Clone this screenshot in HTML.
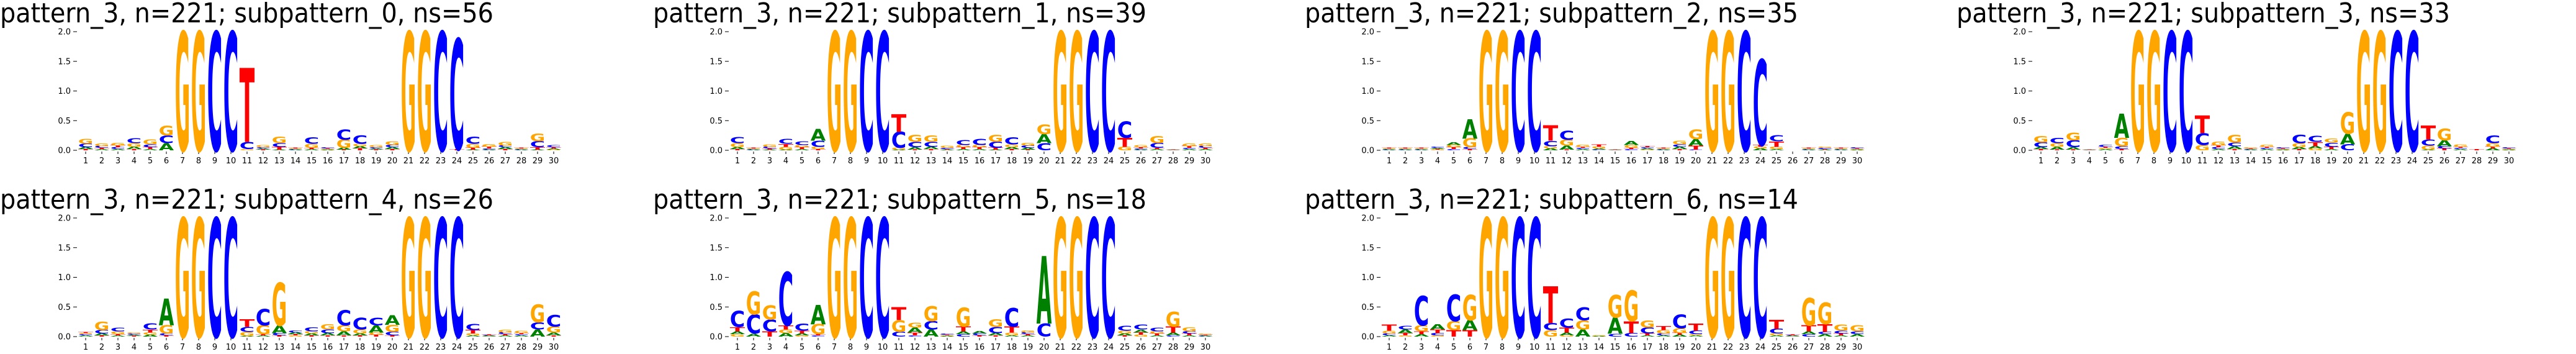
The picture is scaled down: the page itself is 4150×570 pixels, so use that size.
<!DOCTYPE html>
<html><head><meta charset="utf-8">
<style>
html,body{margin:0;padding:0;background:#fff;width:4150px;height:570px;overflow:hidden;}
svg{display:block;overflow:hidden;}
</style></head>
<body>
<svg id="chart" width="4150" height="570" xmlns="http://www.w3.org/2000/svg" style="font-family:'DejaVu Sans','Liberation Sans',sans-serif"></svg>
<script>
// letters order: A, C, G, T
const letters = ['A','C','G','T'];
const colors = {A:'#008000', C:'#0000ff', G:'#ffa500', T:'#ff0000'};
const titles = [
 'pattern_3, n=221; subpattern_0, ns=56',
 'pattern_3, n=221; subpattern_1, ns=39',
 'pattern_3, n=221; subpattern_2, ns=35',
 'pattern_3, n=221; subpattern_3, ns=33',
 'pattern_3, n=221; subpattern_4, ns=26',
 'pattern_3, n=221; subpattern_5, ns=18',
 'pattern_3, n=221; subpattern_6, ns=14'
];
const yTicks = [0, 0.5, 1.0, 1.5, 2.0];
const yTickLabels = ['0.0','0.5','1.0','1.5','2.0'];
const positions = [1,2,3,4,5,6,7,8,9,10,11,12,13,14,15,16,17,18,19,20,21,22,23,24,25,26,27,28,29,30];
const GG = [0,0,2,0], CC = [0,2,0,0];
const logo0 = [[.03,.06,.08,.02],[.02,.03,.05,.02],[.02,.03,.05,.03],[.04,.08,.06,.02],[.02,.05,.08,.03],[.12,.13,.16,0],GG,GG,CC,CC,
 [0,.12,.02,1.25],[.02,.02,.03,.01],[.01,.06,.11,.05],[.01,.01,.01,.01],[.02,.11,.07,.02],[.01,.02,.01,.01],[.03,.17,.14,.01],[.04,.14,.04,.03],[.02,.02,.03,.01],[.03,.04,.06,.02],
 GG,GG,CC,[0,1.86,0,.02],[.01,.12,.07,.03],[.01,.02,.05,.03],[.03,.03,.06,.02],[.01,.01,.01,.01],[.01,.1,.13,.04],[.02,.03,.01,.02]];
const logo1 = [[.03,.1,.07,.02],[.01,.01,.01,.01],[.01,.03,.04,.02],[.01,.08,.05,.05],[.02,.06,.04,.03],[.2,.1,.04,.02],GG,GG,CC,CC,
 [.01,.27,.03,.3],[.04,.09,.12,.01],[.04,.08,.11,.02],[.01,.02,.03,.01],[.02,.08,.04,.03],[.02,.1,.04,.03],[.01,.1,.12,.03],[.03,.12,.05,.02],[.03,.04,.05,.01],[.15,.12,.16,0],
 GG,GG,CC,CC,[0,.28,.06,.15],[.01,.02,.03,.02],[.02,.08,.12,.02],[.005,.005,.005,.005],[.02,.02,.05,.03],[.02,.03,.05,.02]];
const logo2 = [[.01,.01,.01,.01],[.01,.01,.01,.01],[.01,.01,.01,.01],[.02,.02,.01,.01],[.05,.02,.04,.03],[.33,.03,.15,.02],GG,GG,CC,CC,
 [.03,.09,.04,.26],[.07,.15,.1,.01],[.02,.02,.03,.02],[.02,.01,.03,.04],[.005,.005,.005,.005],[.07,.02,.05,.02],[.02,.02,.01,.02],[.01,.01,.01,.01],[.04,.04,.06,.02],[.11,.01,.16,.07],
 GG,GG,CC,[.03,1.44,.03,.03],[.02,.1,.04,.09],[0,0,0,0],[.01,.01,.01,.01],[.01,.02,.02,.01],[.01,.01,.01,.01],[.01,.02,.01,.01]];
const logo3 = [[.03,.08,.11,.02],[.05,.09,.06,.01],[.04,.12,.13,.01],[.005,.005,.005,.005],[.02,.03,.02,.02],[.41,.05,.14,.02],GG,GG,CC,CC,
 [0,.2,.09,.3],[.02,.03,.07,.03],[.05,.06,.13,.02],[.01,.01,.02,.01],[.02,.02,.03,.02],[.01,.02,.01,.01],[.03,.14,.07,.02],[.04,.1,.03,.07],[.02,.07,.07,.04],[.18,.1,.36,0],
 GG,GG,CC,CC,[.01,.1,.07,.24],[.1,.04,.2,.03],[.02,.02,.04,.02],[0,0,0,.02],[.03,.13,.06,.03],[.01,.02,.01,.01]];
const logo4 = [[.02,.02,.02,.02],[.03,.06,.14,.02],[.02,.06,.05,.02],[.02,.02,.02,.01],[.03,.1,.04,.05],[.45,.03,.14,.02],GG,GG,CC,CC,
 [.01,.08,.07,.13],[.02,.28,.15,.02],[.13,.04,.72,.02],[.03,.03,.02,.02],[.03,.07,.04,.02],[.04,.06,.09,.02],[.07,.26,.1,.02],[.03,.2,.07,.02],[.12,.13,.04,.03],[.16,.06,.12,.02],
 GG,GG,CC,CC,[.02,.1,.03,.06],[.01,.01,.005,.01],[.02,.03,.05,.02],[.02,.02,.04,.02],[.12,.12,.3,0],[.05,.2,.1,.02]];
const logo5 = [[.05,.27,.04,.07],[.05,.32,.39,0],[0,.2,.24,.09],[.06,.9,.06,.07],[.03,.12,.02,.05],[.33,.02,.17,.02],GG,GG,CC,CC,
 [0,.08,.2,.22],[.08,.02,.08,.05],[.12,.14,.25,0],[.01,.02,.01,.01],[.05,.04,.32,.08],[.04,.03,0,.02],[.04,.1,.13,.02],[.02,.31,.05,.1],[.02,.03,.03,.02],[1.14,.22,0,0],
 GG,GG,CC,CC,[.03,.08,.05,.02],[.05,.08,.03,.04],[.02,.06,.04,.03],[.05,.02,.25,.1],[.02,.04,.07,.03],[.01,.01,.02,.01]];
const logo6 = [[.02,.03,.05,.1],[.06,.06,.02,.04],[.04,.5,.1,.05],[.09,.04,.02,.06],[0,.45,.15,.11],[.17,0,.43,.11],GG,GG,CC,CC,
 [0,.12,.11,.62],[.05,.15,.02,.08],[.12,.22,.15,0],[.01,0,.01,0],[.27,.05,.38,0],[0,.06,.52,.2],[.02,.1,.12,.03],[.02,.03,.06,.07],[.03,.23,.08,.03],[.02,.06,.02,.12],
 GG,GG,CC,CC,[.02,.08,.03,.15],[.01,.01,.005,.01],[.05,.04,.46,.1],[.04,.04,.36,.13],[.02,.05,.1,.03],[.04,.05,.1,0]];
const logos = [logo0, logo1, logo2, logo3, logo4, logo5, logo6];

const NS = 'http://www.w3.org/2000/svg';
const svg = document.getElementById('chart');
const panelX = [0,1050,2100,3150,0,1050,2100];
const panelRow = [0,0,0,0,1,1,1];
const rowZero = [242, 542];
const pxPerBit = 95.5;
const colW = 26;
const firstPos = 138;

function mk(tag, attrs){ const e=document.createElementNS(NS,tag); for(const k in attrs) e.setAttribute(k,attrs[k]); return e; }

const bboxCache = {};
function glyphBox(L){
  if(bboxCache[L]) return bboxCache[L];
  const t = mk('text',{x:0,y:0,'font-size':100,'font-weight':'bold','font-family':"'DejaVu Sans','Liberation Sans',sans-serif"});
  t.textContent = L; svg.appendChild(t);
  const b = t.getBBox(); svg.removeChild(t);
  const box = {x:b.x, w:b.width, top:-73, h:73};
  bboxCache[L]=box; return box;
}

logos.forEach((logo, p)=>{
  const x0 = panelX[p], zero = rowZero[panelRow[p]];
  const yScale = v => zero - v*pxPerBit;
  const xScale = i => x0 + firstPos + i*colW;
  const g = mk('g',{});
  
  
  svg.appendChild(g);
  const tt = mk('text',{x:x0+(p%4===0?0:2), y:(panelRow[p]===0?36:336),'font-size':44,'textLength':795,'lengthAdjust':'spacingAndGlyphs','fill':'#000'});
  
  
  tt.textContent = titles[p]; g.appendChild(tt);
  yTicks.forEach((v,k)=>{
    const y = yScale(v);
    const tk = mk('line',{x1:x0+118,x2:x0+124,y1:y,y2:y,stroke:'#000','stroke-width':1});
    
    
    g.appendChild(tk);
    const lb = mk('text',{x:x0+114,y:y+4.5,'font-size':13,'text-anchor':'end',fill:'#000'});
    
    
    lb.textContent = yTickLabels[k]; g.appendChild(lb);
  });
  positions.forEach((pos,i)=>{
    const x = xScale(i);
    const tk = mk('line',{x1:x,x2:x,y1:zero+2,y2:zero+6,stroke:'#000','stroke-width':1});
    
    
    g.appendChild(tk);
    const lb = mk('text',{x:x,y:zero+21,'font-size':13,'text-anchor':'middle',fill:'#000'});
    
    
    lb.textContent = String(pos); g.appendChild(lb);
  });
  logo.forEach((col,i)=>{
    const order = letters.map((L,k)=>({L, h:col[k]})).filter(o=>o.h>0).sort((a,b)=>a.h-b.h);
    let cum = 0;
    order.forEach(o=>{
      const yb = yScale(cum), yt = yScale(cum+o.h);
      cum += o.h;
      const hpx = yb-yt; if(hpx<0.3) return;
      const box = glyphBox(o.L);
      const w = 24.5;
      const sx = w/box.w, sy = hpx/box.h;
      const t = mk('text',{x:0,y:0,'font-size':100,'font-weight':'bold',fill:colors[o.L],
        transform:`translate(${xScale(i)-w/2},${yb}) scale(${sx},${sy}) translate(${-box.x},0)`});
      
      
      t.textContent = o.L; g.appendChild(t);
    });
  });
});
</script>
</body></html>
